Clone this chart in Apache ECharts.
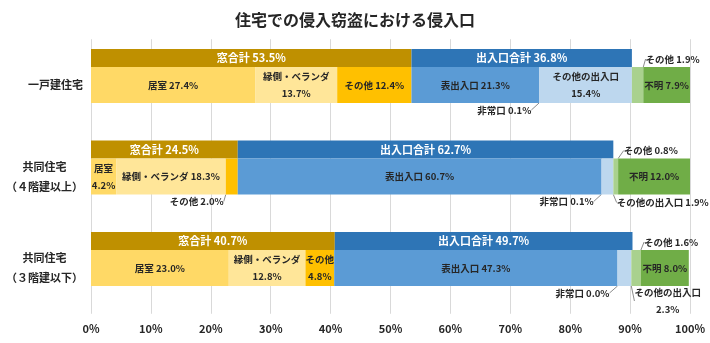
<!DOCTYPE html>
<html>
<head>
<meta charset="utf-8">
<script src="https://cdn.jsdelivr.net/npm/echarts@6/dist/echarts.min.js"></script>
<style>html,body{margin:0;padding:0;background:#fff;}#c{width:710px;height:343px;}</style>
</head>
<body>
<div id="c"></div>
<script>
// ---- data ----
const categories = ['一戸建住宅', '共同住宅\n（４階建以上）', '共同住宅\n（３階建以下）'];
const windowTotal = [53.5, 24.5, 40.7];
const entranceTotal = [36.8, 62.7, 49.7];
const kyoshitsu = [27.4, 4.2, 23.0];
const engawa = [13.7, 18.3, 12.8];
const windowOther = [12.4, 2.0, 4.8];
const frontEntrance = [21.3, 60.7, 47.3];
const emergencyExit = [0.1, 0.1, 0.0];
const otherEntrance = [15.4, 1.9, 2.3];
const otherMethod = [1.9, 0.8, 1.6];
const unknown = [7.9, 12.0, 8.0];
const xTicks = [0, 10, 20, 30, 40, 50, 60, 70, 80, 90, 100];

// ---- styling ----
const FONT = '"Noto Sans CJK JP", "Noto Sans", sans-serif';
const TXT = '#262626';
const fmt = v => v.toFixed(1) + '%';

function labelText(name, v, mode) {
  return (mode === 'in2' || mode === 'br2') ? name + '\n' + fmt(v) : name + ' ' + fmt(v);
}

function layoutFor(mode, p) {
  const r = p.rect;
  const cx = r.x + r.width / 2;
  const by = r.y + r.height;
  const ty = r.y;
  if (mode === 'bl') {
    return {x: cx - 8, y: by + 7, align: 'right', verticalAlign: 'middle',
      labelLinePoints: [[cx, by], [cx, by + 7], [cx - 4, by + 7]]};
  }
  if (mode === 'br') {
    return {x: cx + 9, y: by + 8, align: 'left', verticalAlign: 'middle',
      labelLinePoints: [[cx, by], [cx, by + 8], [cx + 4, by + 8]]};
  }
  if (mode === 'br2') {
    return {x: cx + 10 + p.labelRect.width / 2, y: by - 2, align: 'center', verticalAlign: 'top',
      labelLinePoints: [[cx, by], [cx + 3, by + 8], [cx + 3, by + 14]]};
  }
  if (mode === 'tr') {
    return {x: cx + 8, y: ty - 8, align: 'left', verticalAlign: 'middle',
      labelLinePoints: [[cx, ty], [cx, ty - 8], [cx + 4, ty - 8]]};
  }
  return {};
}

function detailSeries(name, values, color, modes) {
  return {
    type: 'bar', name: name, stack: 'detail', xAxisIndex: 0, yAxisIndex: 0,
    barWidth: 36, itemStyle: {color: color},
    label: {show: true, position: 'inside', color: TXT, fontFamily: FONT,
      fontWeight: 'bold', fontSize: 9.5, lineHeight: 17},
    data: values.map((v, i) => {
      const out = modes[i] !== 'in' && modes[i] !== 'in2';
      return {
        value: v,
        label: {formatter: labelText(name, v, modes[i])},
        labelLine: {show: out, lineStyle: {color: '#8c8c8c', width: 1}}
      };
    }),
    labelLayout: p => layoutFor(modes[p.dataIndex], p)
  };
}

function totalSeries(name, values, color) {
  return {
    type: 'bar', name: name, stack: 'total', xAxisIndex: 1, yAxisIndex: 1,
    barWidth: 18, itemStyle: {color: color},
    label: {show: true, position: 'inside', color: '#fff', fontFamily: FONT,
      fontWeight: 'bold', fontSize: 11, formatter: p => name + ' ' + fmt(p.value)},
    data: values
  };
}

const option = {
  animation: false,
  backgroundColor: '#fff',
  title: {text: '住宅での侵入窃盗における侵入口', left: 'center', top: 7,
    textStyle: {fontFamily: FONT, fontWeight: 'bold', fontSize: 16, color: TXT}},
  grid: [
    {left: 91, right: 20, top: 39.25, height: 274.5},
    {left: 91, right: 20, top: 12.25, height: 274.5}
  ],
  xAxis: [
    {gridIndex: 0, type: 'value', min: 0, max: 100, interval: 10,
      axisLine: {show: false}, axisTick: {show: false},
      splitLine: {lineStyle: {color: '#d9d9d9', width: 1}},
      axisLabel: {margin: 10, color: TXT, fontFamily: FONT, fontWeight: 'bold', fontSize: 11,
        formatter: v => xTicks.indexOf(v) >= 0 ? v + '%' : ''}},
    {gridIndex: 1, type: 'value', min: 0, max: 100, show: false}
  ],
  yAxis: [
    {gridIndex: 0, type: 'category', inverse: true, data: categories,
      axisLine: {show: false}, axisTick: {show: false},
      axisLabel: {margin: 8, align: 'right',
        formatter: v => v.split('\n').map(s => '{a|' + s + '}').join('\n'),
        rich: {a: {align: 'center', color: TXT, fontFamily: FONT, fontWeight: 'bold',
          fontSize: 11, lineHeight: 20}}}},
    {gridIndex: 1, type: 'category', inverse: true, data: categories, show: false}
  ],
  series: [
    totalSeries('窓合計', windowTotal, '#BF9000'),
    totalSeries('出入口合計', entranceTotal, '#2E75B6'),
    detailSeries('居室', kyoshitsu, '#FFD966', ['in', 'in2', 'in']),
    detailSeries('縁側・ベランダ', engawa, '#FFE699', ['in2', 'in', 'in2']),
    detailSeries('その他', windowOther, '#FFC000', ['in', 'bl', 'in2']),
    detailSeries('表出入口', frontEntrance, '#5B9BD5', ['in', 'in', 'in']),
    detailSeries('非常口', emergencyExit, '#9DC3E6', ['bl', 'bl', 'bl']),
    detailSeries('その他の出入口', otherEntrance, '#BDD7EE', ['in2', 'br', 'br2']),
    detailSeries('その他', otherMethod, '#A9D18E', ['tr', 'tr', 'tr']),
    detailSeries('不明', unknown, '#70AD47', ['in', 'in', 'in'])
  ]
};

const chart = echarts.init(document.getElementById('c'), null, {renderer: 'canvas'});
chart.setOption(option);
chart.setOption(option);
</script>
</body>
</html>
